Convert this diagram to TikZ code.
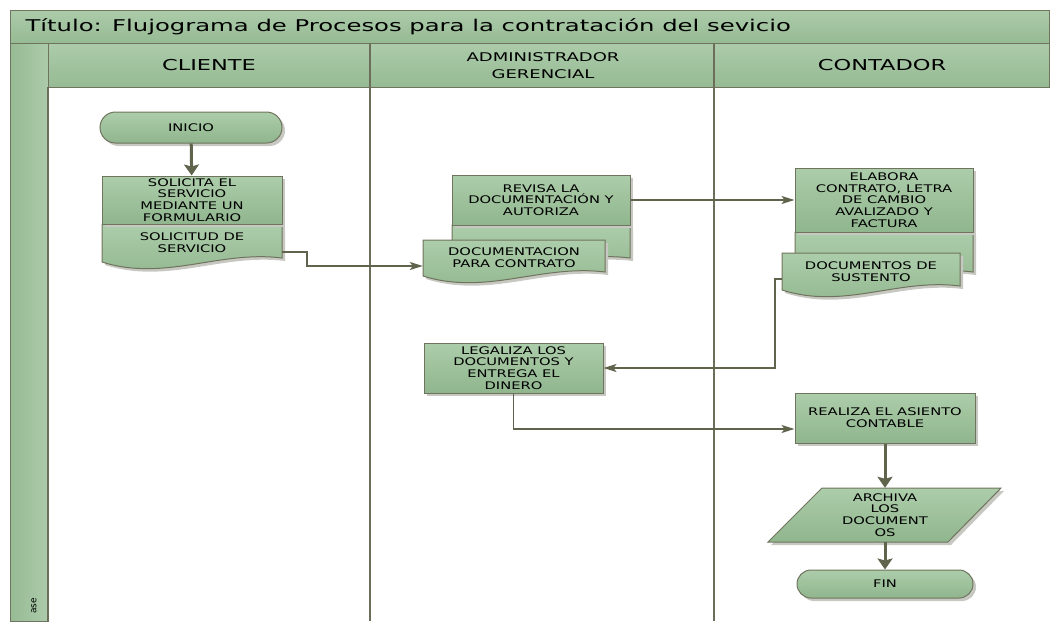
\documentclass[tikz,border=0pt]{standalone}
\usepackage{fontspec}
\usetikzlibrary{arrows.meta,calc,shadows}
\newfontfamily\dv{DejaVu Sans}[FakeStretch=1.4]
\newfontfamily\dvh{DejaVu Sans}[FakeStretch=1.5]
\newfontfamily\dvn{DejaVu Sans}
\definecolor{gA}{RGB}{172,205,170}
\definecolor{gB}{RGB}{144,182,142}
\definecolor{hA}{RGB}{172,203,170}
\definecolor{hB}{RGB}{150,187,148}
\definecolor{bord}{RGB}{112,116,94}
\definecolor{conn}{RGB}{96,100,76}
\definecolor{shad}{RGB}{200,200,194}
\definecolor{laneln}{RGB}{108,110,90}
\newcommand\boxfont{\dv\fontsize{10.5}{11.7}\selectfont}
% document symbol: outline with a wavy bottom edge, then its text node
\newcommand\docnode[6]{%
  \path[box] (#2,#3) -- (#4,#3) -- (#4,{#5-4})
    .. controls ({#4-0.35*(#4-#2)},{#5-12}) and ({#2+0.35*(#4-#2)},{#5+20}) .. (#2,#5) -- cycle;
  \node[doctext, minimum width={#4-#2}, minimum height={#5-#3}] (#1)
    at ({(#2+#4)/2},{(#3+#5)/2}) {#6};}
\begin{document}
\begin{tikzpicture}[x=1pt,y=-1pt,
  band/.style={draw=bord, line width=0.8pt, top color=hA, bottom color=hB},
  box/.style={draw=bord, line width=1pt, top color=gA, bottom color=gB,
    general shadow={fill=shad, shadow xshift=3pt, shadow yshift=-3pt}},
  proc/.style={box, rectangle, align=center, inner sep=0pt, font=\boxfont},
  doctext/.style={rectangle, align=center, inner sep=0pt, font=\boxfont},
  term/.style={proc, rounded corners=#1},
  thin/.style={draw=conn, line width=1.5pt, -{Stealth[length=13pt,width=8pt,inset=3pt]}},
  thick/.style={draw=conn, line width=3pt, -{Stealth[length=11pt,width=15pt,inset=2pt]}},
  lane/.style={draw=laneln, line width=1.6pt},
  hdr/.style={font=\dvh\fontsize{15}{17}\selectfont, align=center}]
\useasboundingbox (0,0) rectangle (1051,621);

% title bar, lane headers and side band
\path[band] (10,10) rectangle (1049,43);
\node[anchor=west, font=\dvh\fontsize{16.2}{18}\selectfont] (title) at (22,27)
  {Título: Flujograma de Procesos para la contratación del sevicio};
\path[band, left color=hB, right color=hA] (10,43) rectangle (48,621);
\path[band] (48,43) rectangle (370,87);
\path[band] (370,43) rectangle (714,87);
\path[band] (714,43) rectangle (1049,87);
\node[hdr] (hcli) at (209,65) {CLIENTE};
\node[hdr, font=\dvh\fontsize{12}{17}\selectfont] (hadm) at (543,66) {ADMINISTRADOR\\GERENCIAL};
\node[hdr] (hcon) at (882,65) {CONTADOR};
\node[font=\dvn\fontsize{9}{10}\selectfont, rotate=90, anchor=east, inner sep=1pt] (fase) at (34,597) {ase};

% lane separators
\draw[lane] (48,87) -- (48,621);
\draw[lane] (370,43) -- (370,621);
\draw[lane] (714,43) -- (714,621);

% CLIENTE
\node[term=15.5pt, minimum width=182pt, minimum height=31pt] (inicio) at (191,127.5) {INICIO};
\docnode{d1}{102}{224}{282}{262}{SOLICITUD DE\\SERVICIO}
\node[proc, minimum width=180pt, minimum height=48pt] (p1) at (192,200)
  {SOLICITA EL\\SERVICIO\\MEDIANTE UN\\FORMULARIO};

% ADMINISTRADOR GERENCIAL
\docnode{b2}{452}{225}{630}{262}{}
\node[proc, minimum width=178pt, minimum height=50pt] (p2) at (541,200)
  {REVISA LA\\DOCUMENTACIÓN Y\\AUTORIZA};
\docnode{d2}{423}{240}{605}{276}{DOCUMENTACION\\PARA CONTRATO}
\node[proc, minimum width=179pt, minimum height=50pt] (p4) at (513.5,368)
  {LEGALIZA LOS\\DOCUMENTOS Y\\ENTREGA EL\\DINERO};

% CONTADOR
\docnode{b3}{795}{232}{973}{276}{}
\node[proc, minimum width=178pt, minimum height=64pt] (p3) at (884,200)
  {ELABORA\\CONTRATO, LETRA\\DE CAMBIO\\AVALIZADO Y\\FACTURA};
\docnode{d3}{782}{253}{960}{290}{DOCUMENTOS DE\\SUSTENTO}
\node[proc, minimum width=180pt, minimum height=50pt] (p5) at (885,418)
  {REALIZA EL ASIENTO\\CONTABLE};
% data symbol (parallelogram)
\path[box] (822,488) -- (1001,488) -- (948,542) -- (768,542) -- cycle;
\node[doctext, minimum width=180pt, minimum height=54pt] (arch) at (885,515)
  {ARCHIVA\\LOS\\DOCUMENT\\OS};
\node[term=14pt, minimum width=176pt, minimum height=28pt] (fin) at (885,584) {FIN};

% connectors
\draw[thick] (inicio) -- (p1);
\draw[thin] ([yshift=-9pt]d1.east) -- ++(25,0) |- ([yshift=-8pt]d2.west);
\draw[thin] (p2.east) -- (p3.west);
\draw[thin] ([yshift=-7.5pt]d3.west) -- ++(-7,0) |- (p4.east);
\draw[thin] (p4.south) |- ([yshift=-11pt]p5.west);
\draw[thick] (p5) -- (arch.north);
\draw[thick] (arch.south) -- (fin);
\end{tikzpicture}
\end{document}
